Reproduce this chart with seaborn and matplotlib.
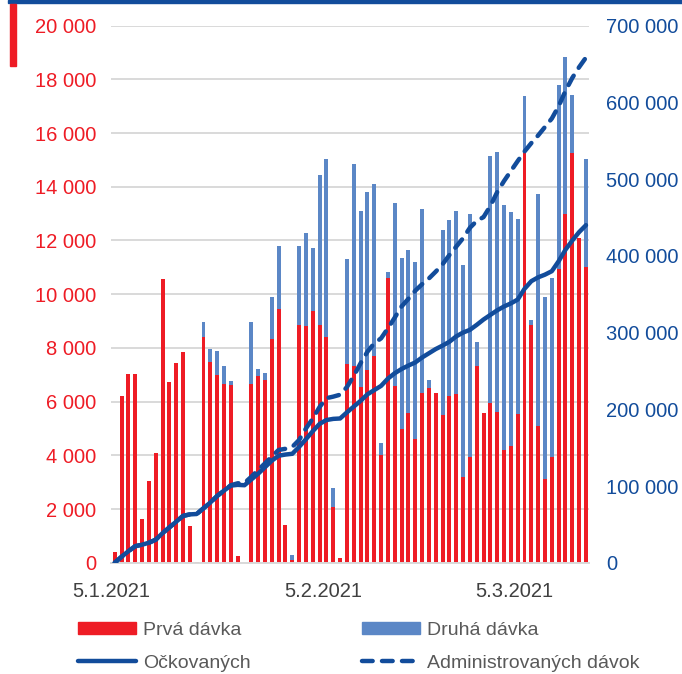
import numpy as np
import pandas as pd
import matplotlib
matplotlib.use("Agg")
import matplotlib.pyplot as plt
from matplotlib.patches import Patch, Rectangle
from matplotlib.lines import Line2D
from matplotlib.ticker import FuncFormatter, MultipleLocator
import seaborn as sns

# ---- data ----
start_date = "2021-01-05"
first_dose = [410, 6195, 7040, 7040, 1620, 3050, 4070, 10575, 6740, 7450,
              7860, 1360, 40, 8400, 7490, 7005, 6670, 6620, 260, 0,
              6670, 6970, 6790, 8350, 9465, 1395, 100, 8845, 8805, 9365,
              8870, 8395, 2090, 190, 7390, 7315, 6545, 7190, 7690, 4030,
              10600, 6570, 4975, 5560, 4590, 6320, 6495, 6320, 5485, 6195,
              6270, 3210, 3920, 7315, 5575, 5950, 5600, 4180, 4365, 5550,
              15250, 8845, 5110, 3100, 3955, 10940, 12990, 15275, 12105, 11030]
second_dose = [0, 0, 0, 0, 0, 0, 0, 0, 0, 0,
               0, 0, 0, 570, 460, 885, 660, 160, 0, 0,
               2300, 260, 280, 1530, 2340, 0, 175, 2935, 3460, 2340,
               5570, 6655, 685, 0, 3905, 7550, 6540, 6615, 6415, 425,
               210, 6815, 6370, 6070, 6605, 6865, 310, 0, 6905, 6565,
               6815, 7885, 9080, 895, 0, 9185, 9685, 9155, 8710, 7240,
               2115, 210, 8610, 6805, 6630, 6860, 5860, 2125, 0, 3995]
vaccinated = [0, 7800, 15000, 21500, 23500, 26000, 30000, 38500, 46000, 53500,
              61000, 63000, 63500, 71000, 78500, 87000, 94000, 100500, 101500, 101000,
              108500, 116000, 124500, 133000, 139500, 141000, 142000, 151000, 161000, 171500,
              181000, 186000, 187500, 188000, 196000, 203500, 211000, 219500, 225000, 230500,
              240000, 247000, 252500, 257000, 261000, 267500, 273000, 278500, 283000, 288000,
              295000, 300000, 303500, 310000, 317000, 323000, 329000, 334000, 338000, 343000,
              357000, 367000, 372000, 375500, 380000, 393000, 408000, 420000, 431000, 440000]
administered = [0, 7800, 15000, 21500, 23500, 26000, 30000, 38500, 46000, 53500,
                61000, 63000, 63500, 71000, 78500, 87000, 94000, 101000, 103500, 104000,
                112000, 121000, 129500, 138500, 147000, 148500, 151000, 160000, 175000, 188000,
                203000, 214500, 216500, 219000, 229000, 243500, 260000, 275000, 286000, 292500,
                305500, 319500, 334000, 344000, 354500, 363000, 370500, 379400, 389000, 401000,
                412000, 423000, 436500, 445500, 450500, 465000, 483000, 497500, 510500, 523500,
                536000, 547000, 557000, 568000, 579000, 595000, 615000, 632000, 646000, 658500]
tick_dates = ["2021-01-05", "2021-02-05", "2021-03-05"]
tick_labels = ["5.1.2021", "5.2.2021", "5.3.2021"]
series_labels = ["Prvá dávka", "Druhá dávka", "Očkovaných", "Administrovaných dávok"]

RED = "#ee1c25"
BLUE_BAR = "#5b87c6"
DARK_BLUE = "#124c9b"
GRID = "#d9d9d9"
TEXT_GRAY = "#595959"

sns.set_theme(style="white")
plt.rcParams["font.family"] = ["Liberation Sans", "DejaVu Sans"]

dates = pd.date_range(start_date, periods=len(first_dose))
df = pd.DataFrame({
    "day": np.arange(len(dates)),
    "first": first_dose,
    "second": second_dose,
})
df["total"] = df["first"] + df["second"]
lines_df = pd.DataFrame({"day": np.arange(len(dates)),
                         "vacc": vaccinated, "adm": administered})

fig = plt.figure(figsize=(6.82, 6.74), dpi=100)
ax = fig.add_axes([0.1632, 0.1651, 0.701, 0.7968])

sns.barplot(data=df, x="day", y="total", color=BLUE_BAR, width=0.58,
            saturation=1, linewidth=0, ax=ax)
sns.barplot(data=df, x="day", y="first", color=RED, width=0.58,
            saturation=1, linewidth=0, ax=ax)

ax.set_ylim(0, 20000)
ax.set_xlim(-0.5, len(dates) - 0.5)
ax.yaxis.set_major_locator(MultipleLocator(2000))
fmt = FuncFormatter(lambda v, p: f"{int(round(v)):,}".replace(",", " "))
ax.yaxis.set_major_formatter(fmt)
ax.yaxis.grid(True, color=GRID, lw=1.4)
ax.set_axisbelow(True)
for s in ["top", "left", "right"]:
    ax.spines[s].set_visible(False)
ax.spines["bottom"].set_color(GRID)
ax.spines["bottom"].set_linewidth(1.4)
ax.set_xlabel("")
ax.set_ylabel("")

tick_pos = [int((pd.Timestamp(d) - dates[0]).days) - 0.5 for d in tick_dates]
ax.set_xticks(tick_pos)
ax.set_xticklabels(tick_labels)
ax.tick_params(axis="x", length=5, width=1.2, color="#bfbfbf",
               labelcolor="#404040", labelsize=14.5, pad=9)
ax.tick_params(axis="y", length=0, labelcolor=RED, labelsize=14.5, pad=11)

ax2 = ax.twinx()
sns.lineplot(data=lines_df, x="day", y="vacc", color=DARK_BLUE, lw=3.2,
             solid_capstyle="round", ax=ax2)
sns.lineplot(data=lines_df, x="day", y="adm", color=DARK_BLUE, lw=3.2,
             dashes=False, ax=ax2)
ax2.lines[-1].set_dashes((2.4, 2.1))
ax2.lines[-1].set_dash_capstyle("round")
ax2.set_ylim(0, 700000)
ax2.yaxis.set_major_locator(MultipleLocator(100000))
ax2.yaxis.set_major_formatter(fmt)
ax2.tick_params(axis="y", length=0, labelcolor=DARK_BLUE, labelsize=14.5, pad=12)
ax2.set_xlim(-0.5, len(dates) - 0.5)
for s in ax2.spines.values():
    s.set_visible(False)
ax2.set_ylabel("")
ax2.set_xlabel("")
ax2.grid(False)

# decorative top line and red marker
fig.patches.append(Rectangle((8 / 682, 1 - 3 / 674), 1, 3 / 674,
                             transform=fig.transFigure, color=DARK_BLUE, zorder=5))
fig.patches.append(Rectangle((10 / 682, 1 - 66 / 674), 6 / 682, 62 / 674,
                             transform=fig.transFigure, color=RED, zorder=5))

handles = [Patch(color=RED),
           Line2D([0], [0], color=DARK_BLUE, lw=3.2),
           Patch(color=BLUE_BAR),
           Line2D([0], [0], color=DARK_BLUE, lw=3.2, dashes=(2.4, 2.1),
                  dash_capstyle="round")]
labels = [series_labels[0], series_labels[2], series_labels[1], series_labels[3]]
leg = fig.legend(handles, labels, ncol=2, loc="upper left",
                 bbox_to_anchor=(78 / 682, 1 - 622 / 674), frameon=False,
                 fontsize=14, handlelength=3.0, handleheight=0.6,
                 handletextpad=0.35, columnspacing=5.7, labelspacing=0.8,
                 borderpad=0, borderaxespad=0)
for t in leg.get_texts():
    t.set_color(TEXT_GRAY)

fig.savefig("out.png", dpi=100)
